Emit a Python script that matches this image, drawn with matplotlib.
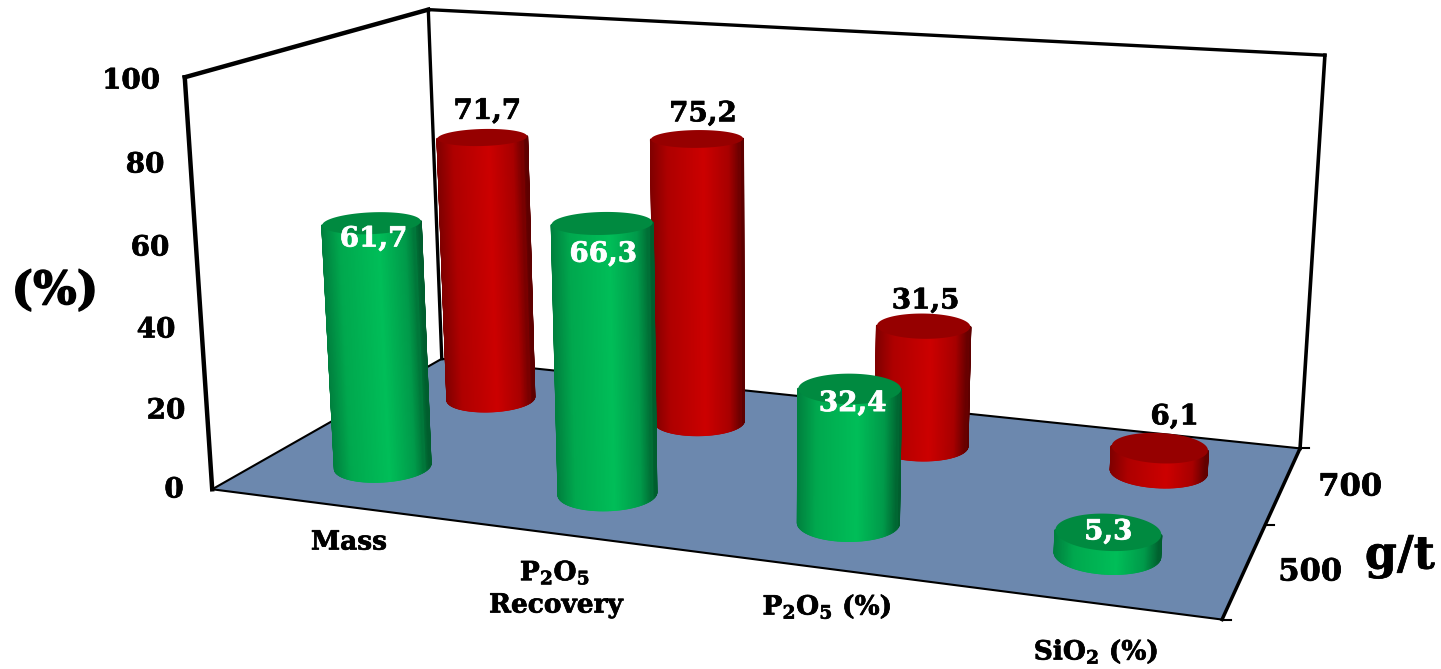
import numpy as np
import matplotlib
matplotlib.use("Agg")
import matplotlib.pyplot as plt
import matplotlib.patheffects as pe
from matplotlib.collections import PolyCollection
from matplotlib.colors import LinearSegmentedColormap

# Chart values
categories = ["Mass", "P2O5 Recovery", "P2O5 (%)", "SiO2 (%)"]
dosages = ["500", "700"]
values_500 = [61.7, 66.3, 32.4, 5.3]
values_700 = [71.7, 75.2, 31.5, 6.1]
value_ticks = [0, 20, 40, 60, 80, 100]
value_max = 100

W, H = 1441, 669

plt.rcParams["font.family"] = ["DejaVu Serif"]
plt.rcParams["font.weight"] = "bold"
plt.rcParams["mathtext.fontset"] = "dejavuserif"

fig = plt.figure(figsize=(W / 100, H / 100), dpi=100, facecolor="white")
ax = fig.add_axes([0, 0, 1, 1])
ax.set_xlim(0, W)
ax.set_ylim(H, 0)
ax.axis("off")

# Camera fitted to the box corners: unit-cube coordinates -> canvas pixels
box_world = np.array([[0, 0, 0], [1, 0, 0], [1, 1, 0], [0, 1, 0],
                      [0, 0, 1], [0, 1, 1], [1, 1, 1]], float)
box_pixels = np.array([[212, 490], [1222, 619], [1300, 449], [442, 358],
                       [185, 77], [428, 10], [1325, 55]], float)


def fit_camera(world, pixels):
    rows, rhs = [], []
    for (x, y, z), (u, v) in zip(world, pixels):
        rows.append([x, y, z, 1, 0, 0, 0, 0, -u * x, -u * y, -u * z])
        rows.append([0, 0, 0, 0, x, y, z, 1, -v * x, -v * y, -v * z])
        rhs += [u, v]
    sol = np.linalg.lstsq(np.array(rows), np.array(rhs), rcond=None)[0]
    return np.append(sol, 1).reshape(3, 4)


P = fit_camera(box_world, box_pixels)
Vt = np.linalg.svd(P)[2]
eye = Vt[-1][:3] / Vt[-1][3]


def project(pts):
    pts = np.atleast_2d(pts)
    h = np.c_[pts, np.ones(len(pts))] @ P.T
    return h[:, :2] / h[:, 2:3]


def wpt(x, y, v):
    return np.array([x, y, v / value_max])


def label(x, y, s, size, color="black", stroke=0.5):
    # Slight outline gives the heavy weight of the lettering
    t = ax.text(x, y, s, fontsize=size, ha="center", va="center", color=color, zorder=8)
    t.set_path_effects([pe.withStroke(linewidth=stroke, foreground=color)])
    return t


# Box: floor and wall edges
floor = project(box_world[:4])
ax.add_patch(plt.Polygon(floor, closed=True, fc="#6C88AE", ec="none", zorder=1))


def edge(a, b, lw):
    p = project(np.array([a, b]))
    ax.plot(p[:, 0], p[:, 1], color="black", lw=lw, solid_capstyle="projecting", zorder=2)


edge([0, 0, 0], [1, 0, 0], 1.5)
edge([0, 0, 0], [0, 1, 0], 1.5)
edge([0, 1, 0], [1, 1, 0], 1.5)
edge([1, 0, 0], [1, 1, 0], 2.5)
edge([0, 0, 0], [0, 0, 1], 3.2)
edge([0, 0, 1], [0, 1, 1], 3.2)
edge([0, 1, 0], [0, 1, 1], 2.4)
edge([0, 1, 1], [1, 1, 1], 2.4)
edge([1, 1, 0], [1, 1, 1], 2.6)

# Depth-axis tick marks
for d in (0, 0.5, 1):
    base = project(wpt(1, d, 0))[0]
    ax.plot([base[0], base[0] + 9], [base[1], base[1]], color="black", lw=1.5, zorder=2)

# Value-axis tick labels
tick_positions = {0: (174, 490), 20: (166, 411), 40: (156, 330),
                  60: (150, 248), 80: (145, 165), 100: (131, 81)}
for t in value_ticks:
    x, y = tick_positions[t]
    label(x, y, str(t), 20)

# Cylinders
radius_x, radius_y = 0.048, 0.10
theta = np.linspace(0, 2 * np.pi, 241)

red_side = LinearSegmentedColormap.from_list(
    "red_side", [(0, "#800000"), (0.18, "#AE0000"), (0.58, "#CC0000"),
                 (0.85, "#A80000"), (1, "#5E0000")])
green_side = LinearSegmentedColormap.from_list(
    "green_side", [(0, "#00803E"), (0.18, "#00A84E"), (0.58, "#00BE58"),
                   (0.85, "#009A4A"), (1, "#005E2E")])


def cylinder(cx, cy, value, cmap, cap_color):
    ring = np.c_[cx + radius_x * np.cos(theta), cy + radius_y * np.sin(theta)]
    z_top = value / value_max
    low3 = np.c_[ring, np.zeros(len(ring))]
    top3 = np.c_[ring, np.full(len(ring), z_top)]
    low, top = project(low3), project(top3)
    # Faces whose outward normal points at the camera
    normals = np.c_[np.cos(theta) / radius_x, np.sin(theta) / radius_y, np.zeros(len(theta))]
    mid = 0.5 * (low3 + top3)
    visible = np.sum(normals * (eye - mid), axis=1) > 0
    quads, shades = [], []
    span = (low[visible, 0].min(), low[visible, 0].max())
    for i in range(len(theta) - 1):
        if visible[i] and visible[i + 1]:
            quads.append([low[i], low[i + 1], top[i + 1], top[i]])
            shades.append(cmap((low[i, 0] - span[0]) / (span[1] - span[0])))
    order = 3 + (1 - cy)
    ax.add_collection(PolyCollection(quads, facecolors=shades, edgecolors=shades,
                                     linewidths=1.5, zorder=order))
    ax.add_patch(plt.Polygon(top, closed=True, fc=cap_color, ec="none", zorder=order + 0.01))
    return project(wpt(cx, cy, value))[0]


n = len(categories)
rows = [(values_700, 0.75, red_side, "#960000", "black",
         [(5, -26), (6, -25), (2, -25), (15, -31)]),
        (values_500, 0.245, green_side, "#008A40", "white",
         [(2, 16), (1, 31), (3, 15), (0, 0)])]
for vals, depth, cmap, cap, text_color, shifts in rows:
    for i, v in enumerate(vals):
        cen = cylinder((i + 0.5) / n, depth, v, cmap, cap)
        label(cen[0] + shifts[i][0], cen[1] + shifts[i][1],
              f"{v:.1f}".replace(".", ","), 20, color=text_color)

# Category labels
cat_fs = 19
label(349, 542, "Mass", cat_fs)
label(555, 573, r"$\mathbf{P_2O_5}$", cat_fs)
label(556, 605, "Recovery", cat_fs)
label(827, 607, r"$\mathbf{P_2O_5}$ (%)", cat_fs)
label(1096, 652, r"$\mathbf{SiO_2}$ (%)", cat_fs)

# Depth labels and axis titles
label(1310, 572, dosages[0], 22)
label(1350, 487, dosages[1], 22)
label(1400, 556, "g/t", 33)
label(55, 291, "(%)", 33, stroke=1.0)

fig.savefig("out.png", dpi=100, facecolor="white")
